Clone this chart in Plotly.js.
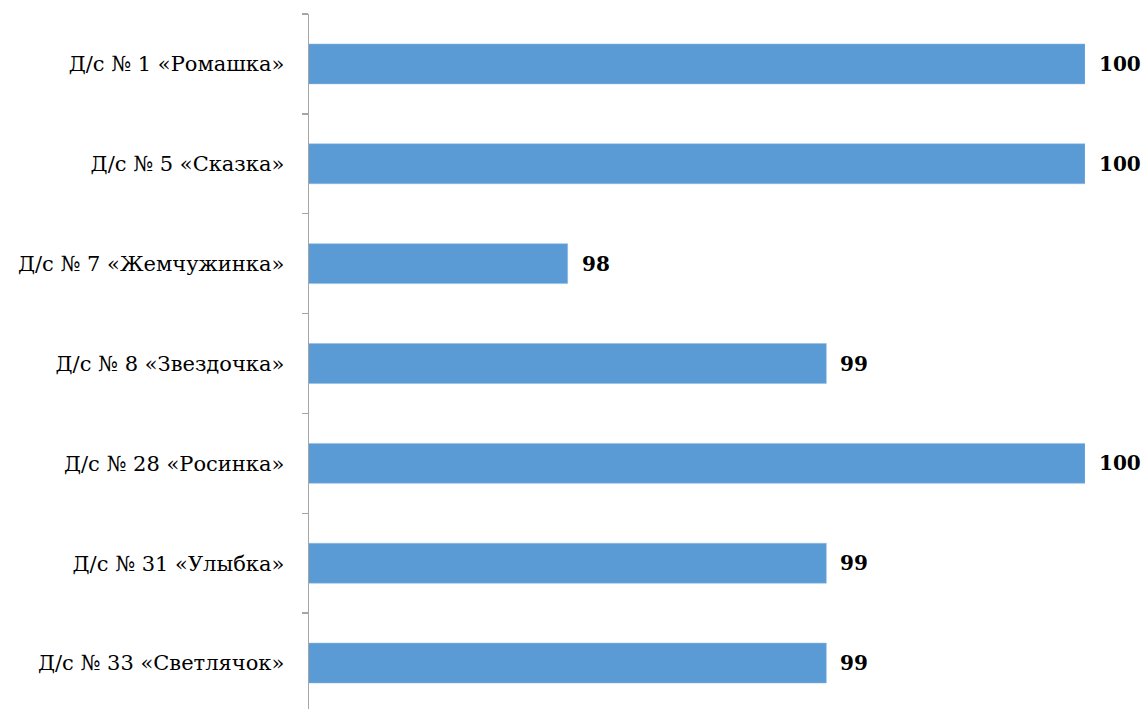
<!DOCTYPE html>
<html>
<head>
<meta charset="utf-8">
<script src="https://cdn.plot.ly/plotly-3.0.1.min.js"></script>
<style>html,body{margin:0;padding:0;background:#fff;}#chart{width:1145px;height:709px;}</style>
</head>
<body>
<div id="chart"></div>
<script>
const categories = [
  "Д/с № 1 «Ромашка»",
  "Д/с № 5 «Сказка»",
  "Д/с № 7 «Жемчужинка»",
  "Д/с № 8 «Звездочка»",
  "Д/с № 28 «Росинка»",
  "Д/с № 31 «Улыбка»",
  "Д/с № 33 «Светлячок»"
];
const values = [100, 100, 98, 99, 100, 99, 99];

const FONT = "DejaVu Serif";

const trace = {
  type: "bar",
  orientation: "h",
  x: values,
  y: categories,
  width: 0.4,
  marker: {color: "#5B9BD5", line: {color: "#8fbbe3", width: 0.5}},
  hoverinfo: "none"
};

const annotations = categories.map((c, i) => ({
  x: values[i], y: c, xref: "x", yref: "y",
  text: "<b>" + values[i] + "</b>",
  showarrow: false, xanchor: "left", yanchor: "middle", xshift: 12,
  font: {family: FONT, size: 20, color: "#000"}
}));

const layout = {
  width: 1145, height: 709,
  margin: {l: 309, r: 60, t: 14, b: 0},
  paper_bgcolor: "#fff", plot_bgcolor: "#fff",
  showlegend: false,
  font: {family: FONT},
  xaxis: {range: [97, 100], visible: false, fixedrange: true},
  yaxis: {
    type: "category",
    range: [6.46, -0.5],
    showline: true, linecolor: "#a6a6a6", linewidth: 1.5,
    ticks: "outside", tickson: "boundaries", ticklen: 6, tickcolor: "#a6a6a6", tickwidth: 1.5,
    showgrid: false, zeroline: false,
    ticklabelstandoff: 19,
    tickfont: {family: FONT, size: 21, color: "#000"},
    fixedrange: true
  },
  annotations: annotations
};

Plotly.newPlot("chart", [trace], layout, {displayModeBar: false, staticPlot: true});
</script>
</body>
</html>
